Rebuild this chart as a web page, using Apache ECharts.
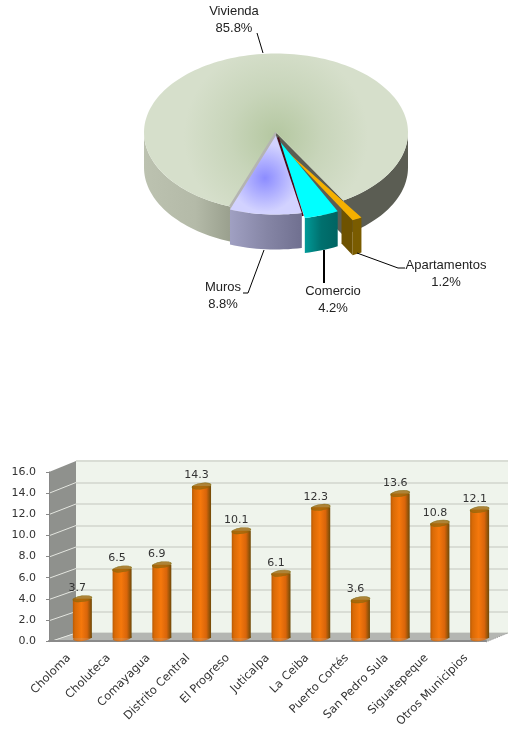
<!DOCTYPE html>
<html>
<head>
<meta charset="utf-8">
<style>html,body{margin:0;padding:0;background:#fff}#c{width:510px;height:730px}</style>
<script src="https://cdn.jsdelivr.net/npm/echarts@6/dist/echarts.min.js"></script>
</head>
<body>
<div id="c"></div>
<script>
// ---- data ----
var pieCategories = ['Vivienda', 'Apartamentos', 'Comercio', 'Muros'];
var pieValues = [85.8, 1.2, 4.2, 8.8];
var barCategories = ['Choloma', 'Choluteca', 'Comayagua', 'Distrito Central', 'El Progreso', 'Juticalpa', 'La Ceiba', 'Puerto Cortés', 'San Pedro Sula', 'Siguatepeque', 'Otros Municipios'];
var barValues = [3.7, 6.5, 6.9, 14.3, 10.1, 6.1, 12.3, 3.6, 13.6, 10.8, 12.1];
var yTicks = [0, 2, 4, 6, 8, 10, 12, 14, 16];

// ---- pie layout ----
var CX = 276, CY = 132.5, RX = 132, RY = 79, DEPTH = 35, START = 339.6;
var explode = [[0, 0], [18, 17], [3, 8], [0, 3]];
var apexShift = [[0, 0], [11, 19], [3, 8], [0, 3]];
var labelPos = [[234, 20], [446, 274], [333, 300], [223, 296]];
var leaders = [
  [[257, 33], [263, 53]],
  [[357, 253], [398, 268], [405, 268]],
  [[324, 250], [324, 283]],
  [[243, 293], [248, 293], [264, 250]]
];
var leaderWidth = [1, 1, 2, 1];
var TOPS = [
  function () { return new echarts.graphic.RadialGradient(CX, CY + 4, 92, [{offset: 0, color: '#b4c7a0'}, {offset: 0.5, color: '#c8d5ba'}, {offset: 1, color: '#d6dfcb'}], true); },
  function () { return '#f5b000'; },
  function () { return '#00ffff'; },
  function () { return new echarts.graphic.RadialGradient(265, 178, 34, [{offset: 0, color: '#8c8cff'}, {offset: 1, color: '#d2d2ff'}], true); }
];

function rad(d) { return d * Math.PI / 180; }
function rim(t, dx, dy, z) { return [CX + dx + RX * Math.sin(rad(t)), CY + dy + RY * Math.cos(rad(t)) + (z || 0)]; }
function arcPts(a, b, dx, dy, z) {
  var pts = [], n = Math.max(2, Math.ceil(Math.abs(b - a) / 2));
  for (var i = 0; i <= n; i++) pts.push(rim(a + (b - a) * i / n, dx, dy, z));
  return pts;
}
function hGrad(a, b, c) {
  return new echarts.graphic.LinearGradient(0, 0, 1, 0, [{offset: 0, color: a}, {offset: 0.5, color: b}, {offset: 1, color: c}]);
}
function sidePoly(a, b, dx, dy, fill) {
  return {type: 'polygon', shape: {points: arcPts(a, b, dx, dy, 0).concat(arcPts(b, a, dx, dy, DEPTH))}, style: {fill: fill}};
}
// cut face of a slice, starting a fraction of the way out from the apex
function cutFace(t, dx, dy, ax, ay, from, fill) {
  var r = rim(t, dx, dy);
  var p = [ax + (r[0] - ax) * from, ay + (r[1] - ay) * from];
  return {type: 'polygon', shape: {points: [p, r, [r[0], r[1] + DEPTH], [p[0], p[1] + DEPTH]]}, style: {fill: fill}};
}

function renderPie(params, api) {
  var idx = params.dataIndex, total = 0, before = 0;
  pieValues.forEach(function (v, i) { total += v; if (i < idx) before += v; });
  var hi = START - before / total * 360;
  var lo = hi - api.value(1) / total * 360;
  var e = explode[idx], dx = e[0], dy = e[1], kids = [];
  var ax = CX + apexShift[idx][0], ay = CY + apexShift[idx][1];

  if (idx === 0) {
    kids.push(cutFace(lo, dx, dy, ax, ay, 0, '#5b5d53'));
    kids.push(cutFace(hi, dx, dy, ax, ay, 0, '#b4b4b2'));
    kids.push(sidePoly(hi, 270, dx, dy, new echarts.graphic.LinearGradient(0, 0, 1, 0, [{offset: 0, color: '#bcc2b0'}, {offset: 0.6, color: '#b4baa8'}, {offset: 1, color: '#9aa08e'}])));
    kids.push(sidePoly(lo, 90, dx, dy, '#5b5d53'));
  } else if (idx === 1) {
    kids.push(cutFace(lo, dx, dy, ax, ay, 0.83, '#6e5200'));
    kids.push(sidePoly(lo, hi, dx, dy, '#7a5c00'));
  } else if (idx === 2) {
    kids.push(sidePoly(lo, hi, dx, dy, hGrad('#009a98', '#00706e', '#006462')));
  } else {
    kids.push(sidePoly(lo, hi, dx, dy, hGrad('#a0a0c2', '#8686a6', '#707090')));
  }
  kids.push({type: 'polygon', shape: {points: [[ax, ay]].concat(arcPts(lo, hi, dx, dy, 0))}, style: {fill: TOPS[idx]()}});
  if (idx === 2) {
    var cr = rim(lo, dx, dy);
    kids.push({type: 'line', shape: {x1: ax - 1, y1: ay - 3, x2: cr[0] - 2, y2: cr[1] - 2}, style: {stroke: '#4a0a18', lineWidth: 2}});
  }
  if (idx === 0) {
    var lf = rim(hi, dx, dy);
    kids.push({type: 'line', shape: {x1: CX, y1: CY, x2: lf[0], y2: lf[1]}, style: {stroke: '#b4b4b2', lineWidth: 2}});
  }
  kids.push({type: 'polyline', shape: {points: leaders[idx]}, style: {stroke: '#000', lineWidth: leaderWidth[idx], fill: 'none'}});
  kids.push({type: 'text', style: {
    x: labelPos[idx][0], y: labelPos[idx][1],
    text: api.value(0) + '\n' + api.value(1).toFixed(1) + '%',
    align: 'center', verticalAlign: 'middle', lineHeight: 16.5,
    font: '13px "Liberation Sans", Arial, sans-serif', fill: '#222'
  }});
  return {type: 'group', children: kids};
}

// ---- bar layout ----
var FX = 49, FY0 = 642, FH = 170, FW = 437, BX = 76, BY0 = 633, BH = 172, BR = 508;
var wallPts = [[FX, FY0], [BX, BY0], [BX, BY0 - BH], [FX, FY0 - FH]];
var floorPts = [[FX, FY0], [BX, BY0], [BR, BY0], [FX + FW, FY0]];
var graphics = [
  {type: 'polygon', z: 1, shape: {points: wallPts}, style: {fill: '#8f918d'}},
  {type: 'polygon', z: 1, shape: {points: floorPts}, style: {fill: '#b4b6b2'}},
  {type: 'line', z: 1, shape: {x1: FX + FW, y1: FY0, x2: BR, y2: BY0}, style: {stroke: '#9a9a9a', lineWidth: 1, lineDash: [1, 1]}}
];
yTicks.forEach(function (t) {
  if (t === 16) return;
  graphics.push({type: 'line', z: 1, shape: {x1: FX, y1: FY0 - t / 16 * FH, x2: BX, y2: BY0 - t / 16 * BH}, style: {stroke: '#e4e6e0', lineWidth: 1}});
});

var grey = '#333';
var fontFam = '"DejaVu Sans", Verdana, sans-serif';
var cylinder = new echarts.graphic.LinearGradient(0, 0, 1, 0, [
  {offset: 0, color: '#b85a04'}, {offset: 0.12, color: '#d96a06'}, {offset: 0.45, color: '#f5780c'},
  {offset: 0.75, color: '#d9650a'}, {offset: 1, color: '#6e4a08'}
]);

var option = {
  animation: false,
  backgroundColor: '#fff',
  graphic: graphics,
  grid: [
    {left: BX, top: BY0 - BH, width: BR - BX, height: BH, show: true, backgroundColor: '#eff4ec', borderWidth: 0},
    {left: FX, top: FY0 - FH, width: FW, height: FH},
    {left: FX + 13.5, top: 638 - FH, width: FW, height: FH}
  ],
  xAxis: [
    {gridIndex: 0, type: 'value', show: false, min: 0, max: 1},
    {gridIndex: 1, type: 'category', data: barCategories, z: 3,
      axisLine: {lineStyle: {color: '#8a8a8a', width: 2}},
      axisTick: {alignWithLabel: false, length: 4, lineStyle: {color: '#999'}},
      axisLabel: {rotate: 45, interval: 0, color: grey, fontSize: 11.5, fontFamily: fontFam, margin: 15}},
    {gridIndex: 2, type: 'category', data: barCategories, show: false}
  ],
  yAxis: [
    {gridIndex: 0, type: 'value', min: 0, max: 16, interval: 2,
      axisLabel: {show: false}, axisLine: {show: false}, axisTick: {show: false},
      splitLine: {lineStyle: {color: '#d9ddd5', width: 2}}},
    {gridIndex: 1, type: 'value', min: 0, max: 16, interval: 2, z: 3,
      axisLine: {show: true, lineStyle: {color: '#888'}},
      axisTick: {show: true, length: 3, lineStyle: {color: '#888'}},
      splitLine: {show: false},
      axisLabel: {color: grey, fontSize: 11, fontFamily: fontFam, margin: 13,
        formatter: function (v) { return v.toFixed(1); }}},
    {gridIndex: 2, type: 'value', min: 0, max: 16, interval: 2, show: false, splitLine: {show: false}}
  ],
  series: [
    {type: 'custom', coordinateSystem: 'none', renderItem: renderPie, silent: true,
      encode: {value: 1}, z: 5,
      data: pieCategories.map(function (c, i) { return [c, pieValues[i]]; })},
    {type: 'scatter', xAxisIndex: 2, yAxisIndex: 2, symbol: 'circle', symbolSize: [19, 6], symbolRotate: 8, silent: true, z: 4,
      itemStyle: {color: cylinder},
      data: barValues.map(function () { return 0; })},
    {type: 'bar', xAxisIndex: 2, yAxisIndex: 2, barWidth: 19, silent: true, z: 5, data: barValues,
      itemStyle: {color: cylinder},
      label: {show: true, position: 'top', distance: 5, offset: [-5, 0], color: grey, fontSize: 11, fontFamily: fontFam,
        formatter: function (p) { return p.value.toFixed(1); }}},
    {type: 'scatter', xAxisIndex: 2, yAxisIndex: 2, symbol: 'circle', symbolSize: [19, 6], symbolRotate: 8, silent: true, z: 6,
      itemStyle: {color: '#9c660a', borderColor: '#7f6a10', borderWidth: 0.6},
      data: barValues}
  ]
};
var chart = echarts.init(document.getElementById('c'), null, {renderer: 'canvas'});
chart.setOption(option);
</script>
</body>
</html>
